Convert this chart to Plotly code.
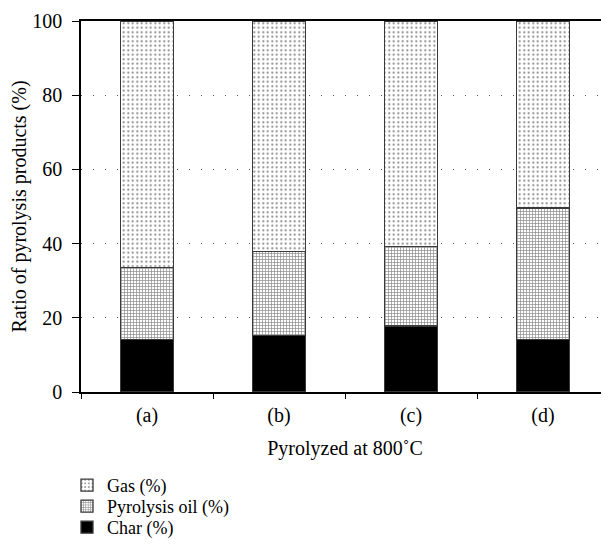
import plotly.graph_objects as go

categories = ["(a)", "(b)", "(c)", "(d)"]
char_pct = [14.1, 15.2, 17.8, 14.2]
oil_pct = [19.5, 22.6, 21.4, 35.4]
gas_pct = [66.4, 62.2, 60.8, 50.4]
y_ticks = [0, 20, 40, 60, 80, 100]

FONT = "Liberation Serif"
FS = 20
LEG_FS = 18
# The page body has an 8px default margin; the figure is sized and its
# margins set so that the plot lands at the reference's page position.
OFF = 8
W, H = 609 - OFF, 552 - OFF
L, R, T, B = 81 - OFF, 0, 21 - OFF, 160
plot_top_page, plot_bot_page = 21.5, 392.5

fig = go.Figure()
line = dict(color="#3a3a3a", width=1.3)
fig.add_trace(go.Bar(
    x=categories, y=char_pct, name="Char (%)", legend="legend3",
    marker=dict(color="black", line=line),
))
fig.add_trace(go.Bar(
    x=categories, y=oil_pct, name="Pyrolysis oil (%)", legend="legend2",
    marker=dict(color="white", line=line,
                pattern=dict(shape="+", size=3, solidity=0.4,
                             fgcolor="#111111", bgcolor="white")),
))
fig.add_trace(go.Bar(
    x=categories, y=gas_pct, name="Gas (%)", legend="legend",
    marker=dict(color="white", line=line,
                pattern=dict(shape=".", size=4.5, solidity=0.17,
                             fgcolor="#000000", bgcolor="white")),
))

plot_h = plot_bot_page - plot_top_page
plot_w = W - L - R

def ly(px_page):
    return (plot_bot_page - px_page) / plot_h

lx = (59 - L) / plot_w
leg_common = dict(x=lx, xanchor="left", yanchor="middle",
                  font=dict(family=FONT, size=LEG_FS, color="black"),
                  bgcolor="rgba(0,0,0,0)")

fig.update_layout(
    width=W, height=H,
    margin=dict(l=L, r=R, t=T, b=B, pad=0),
    barmode="stack",
    bargap=0.6,
    plot_bgcolor="white", paper_bgcolor="white",
    font=dict(family=FONT, size=FS, color="black"),
    showlegend=True,
    legend=dict(y=ly(486), **leg_common),
    legend2=dict(y=ly(507), **leg_common),
    legend3=dict(y=ly(528), **leg_common),
    xaxis=dict(
        type="category", range=[-0.5, 3.5],
        showline=True, linecolor="black", linewidth=1.5, mirror=True,
        ticks="outside", tickson="boundaries", ticklen=5, tickcolor="black",
        tickwidth=1.3, ticklabelstandoff=4,
        showgrid=False,
        tickfont=dict(family=FONT, size=FS),
        title=dict(text="Pyrolyzed at 800˚C", font=dict(family=FONT, size=FS),
                   standoff=15),
    ),
    yaxis=dict(
        range=[0, 100], tickvals=y_ticks,
        showline=True, linecolor="black", linewidth=1.5,
        ticks="outside", ticklen=7, tickcolor="black", tickwidth=1.3,
        ticklabelstandoff=6,
        showgrid=True, gridcolor="#555555", gridwidth=1, griddash="1px,11px",
        zeroline=False,
        tickfont=dict(family=FONT, size=FS),
        title=dict(text="Ratio of pyrolysis products (%)",
                   font=dict(family=FONT, size=FS), standoff=3),
    ),
)

fig.write_html("out.html")
